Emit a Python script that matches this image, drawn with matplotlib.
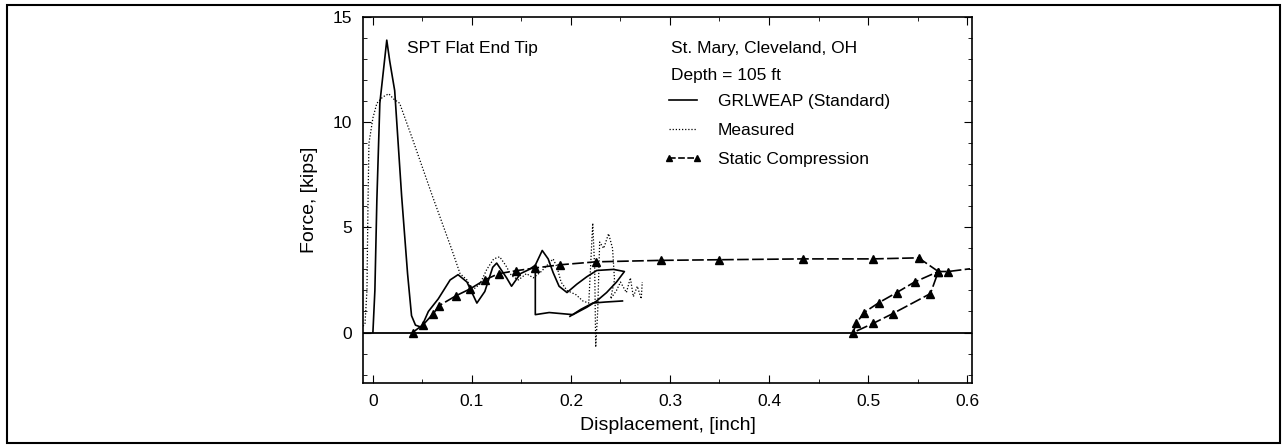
import numpy as np
import matplotlib
matplotlib.use("Agg")
import matplotlib.pyplot as plt
from matplotlib.lines import Line2D
from matplotlib.patches import Rectangle

plt.rcParams['font.family'] = ['Liberation Sans', 'DejaVu Sans']

# GRLWEAP (Standard) - displacement [inch], force [kips]
grl_x = [0.0, 0.002, 0.004, 0.007, 0.014, 0.017, 0.022, 0.029, 0.035, 0.039, 0.043, 0.049,
         0.056, 0.066, 0.078, 0.086, 0.095, 0.105, 0.113, 0.121, 0.125, 0.135, 0.140, 0.149,
         0.158, 0.164, 0.171, 0.177, 0.182, 0.188, 0.196, 0.206, 0.216, 0.226, 0.243, 0.254,
         0.246, 0.236, 0.226, 0.216, 0.202, 0.190, 0.178, 0.164, 0.164]
grl_y = [0.0, 2.0, 6.3, 10.9, 13.9, 12.9, 11.5, 6.5, 2.8, 0.8, 0.35, 0.25,
         1.0, 1.6, 2.5, 2.75, 2.4, 1.4, 1.95, 3.1, 3.3, 2.6, 2.2, 2.8,
         3.0, 3.2, 3.9, 3.5, 2.85, 2.2, 1.9, 2.3, 2.65, 2.95, 3.0, 2.9,
         2.4, 1.9, 1.5, 1.2, 0.85, 0.9, 0.95, 0.85, 3.1]
grl2_x = [0.199, 0.210, 0.222, 0.235, 0.252]
grl2_y = [0.77, 1.1, 1.4, 1.45, 1.5]

# Measured
meas_x = [-0.010, -0.008, -0.006, -0.005, -0.004, 0.0, 0.004, 0.010, 0.016, 0.021, 0.027,
          0.040, 0.060, 0.080, 0.088, 0.095, 0.100, 0.108, 0.115, 0.122, 0.128, 0.134, 0.140,
          0.147, 0.155, 0.162, 0.170, 0.176, 0.182, 0.186, 0.190, 0.196, 0.205, 0.212, 0.218,
          0.222, 0.224, 0.225, 0.227, 0.229, 0.233, 0.238, 0.242, 0.244, 0.240, 0.246, 0.250,
          0.256, 0.260, 0.263, 0.267, 0.271, 0.272]
meas_y = [0.3, 0.4, 2.0, 6.0, 9.0, 10.2, 10.9, 11.2, 11.35, 11.1, 10.9,
          9.2, 6.5, 3.9, 2.8, 2.5, 2.0, 2.3, 3.0, 3.5, 3.6, 3.2, 2.7,
          2.5, 2.8, 2.6, 2.9, 3.2, 3.5, 3.1, 2.4, 2.0, 1.8, 1.5, 1.4,
          5.2, 3.0, -0.7, 1.0, 4.3, 4.0, 4.7, 4.0, 2.5, 1.6, 2.0, 2.4,
          1.9, 2.6, 1.7, 2.2, 1.6, 2.4]

# Static Compression
stat_x = [0.040, 0.051, 0.061, 0.067, 0.084, 0.098, 0.113, 0.127, 0.145, 0.164, 0.189,
          0.225, 0.291, 0.350, 0.434, 0.505, 0.551, 0.571, 0.563, 0.525, 0.505, 0.485,
          0.488, 0.496, 0.511, 0.529, 0.547, 0.571, 0.581, 0.603]
stat_y = [0.0, 0.38, 0.9, 1.28, 1.75, 2.07, 2.5, 2.8, 2.94, 3.07, 3.22,
          3.36, 3.43, 3.46, 3.5, 3.5, 3.55, 2.9, 1.85, 0.9, 0.43, 0.0,
          0.43, 0.95, 1.42, 1.9, 2.4, 2.9, 2.9, 3.03]

fig = plt.figure(figsize=(12.83, 4.46), dpi=100, facecolor='white')
ax = fig.add_axes([363/1283, 1-383/446, (972-363)/1283, (383-17)/446])

ax.axhline(0, color='black', lw=1.3, zorder=1)
ax.plot(grl_x, grl_y, color='black', lw=1.2)
ax.plot(grl2_x, grl2_y, color='black', lw=1.2)
ax.plot(meas_x, meas_y, color='black', lw=0.9, linestyle=(0, (1, 1.5)))
ax.plot(stat_x, stat_y, color='black', lw=1.2, linestyle=(0, (7, 2)),
        marker='^', markersize=6, markevery=[i for i in range(len(stat_x) - 1)])

ax.set_xlim(-0.01, 0.605)
ax.set_ylim(-2.4, 15)
ax.set_xticks([0, 0.1, 0.2, 0.3, 0.4, 0.5, 0.6])
ax.set_xticklabels(['0', '0.1', '0.2', '0.3', '0.4', '0.5', '0.6'])
ax.set_yticks([0, 5, 10, 15])
ax.set_xticks(np.arange(0, 0.61, 0.05), minor=True)
ax.set_yticks(np.arange(-2, 15.1, 1), minor=True)
ax.tick_params(which='both', direction='in', top=True, right=True, colors='black',
               labelsize=12.5, pad=8)
ax.tick_params(which='major', length=6)
ax.tick_params(which='minor', length=3)
ax.set_xlabel("Displacement, [inch]", fontsize=14, labelpad=6)
ax.set_ylabel("Force, [kips]", fontsize=14, labelpad=10)
for spine in ax.spines.values():
    spine.set_color('black')
    spine.set_linewidth(1.2)

ax.text(0.072, 0.915, "SPT Flat End Tip", transform=ax.transAxes, fontsize=12.5,
        va='center', ha='left')
ax.text(0.505, 0.915, "St. Mary, Cleveland, OH", transform=ax.transAxes, fontsize=12.5,
        va='center', ha='left')
ax.text(0.505, 0.84, "Depth = 105 ft", transform=ax.transAxes, fontsize=12.5,
        va='center', ha='left')

handles = [Line2D([], [], color='black', lw=1.2),
           Line2D([], [], color='black', lw=0.9, linestyle=(0, (1, 1.5))),
           Line2D([], [], color='black', lw=1.2, linestyle=(0, (4, 1.5)), marker='^',
                  markersize=4)]
ax.legend(handles, ["GRLWEAP (Standard)", "Measured", "Static Compression"],
          loc='upper left', bbox_to_anchor=(0.483, 0.81), frameon=False, fontsize=12.5,
          handlelength=2.2, handletextpad=0.9, labelspacing=0.8, numpoints=2,
          borderaxespad=0)

fig.patches.append(Rectangle((7/1283, 3/446), 1273/1283, 438/446, transform=fig.transFigure,
                             fill=False, edgecolor='black', lw=1.5))

fig.savefig("out.png", dpi=100, facecolor='white')
